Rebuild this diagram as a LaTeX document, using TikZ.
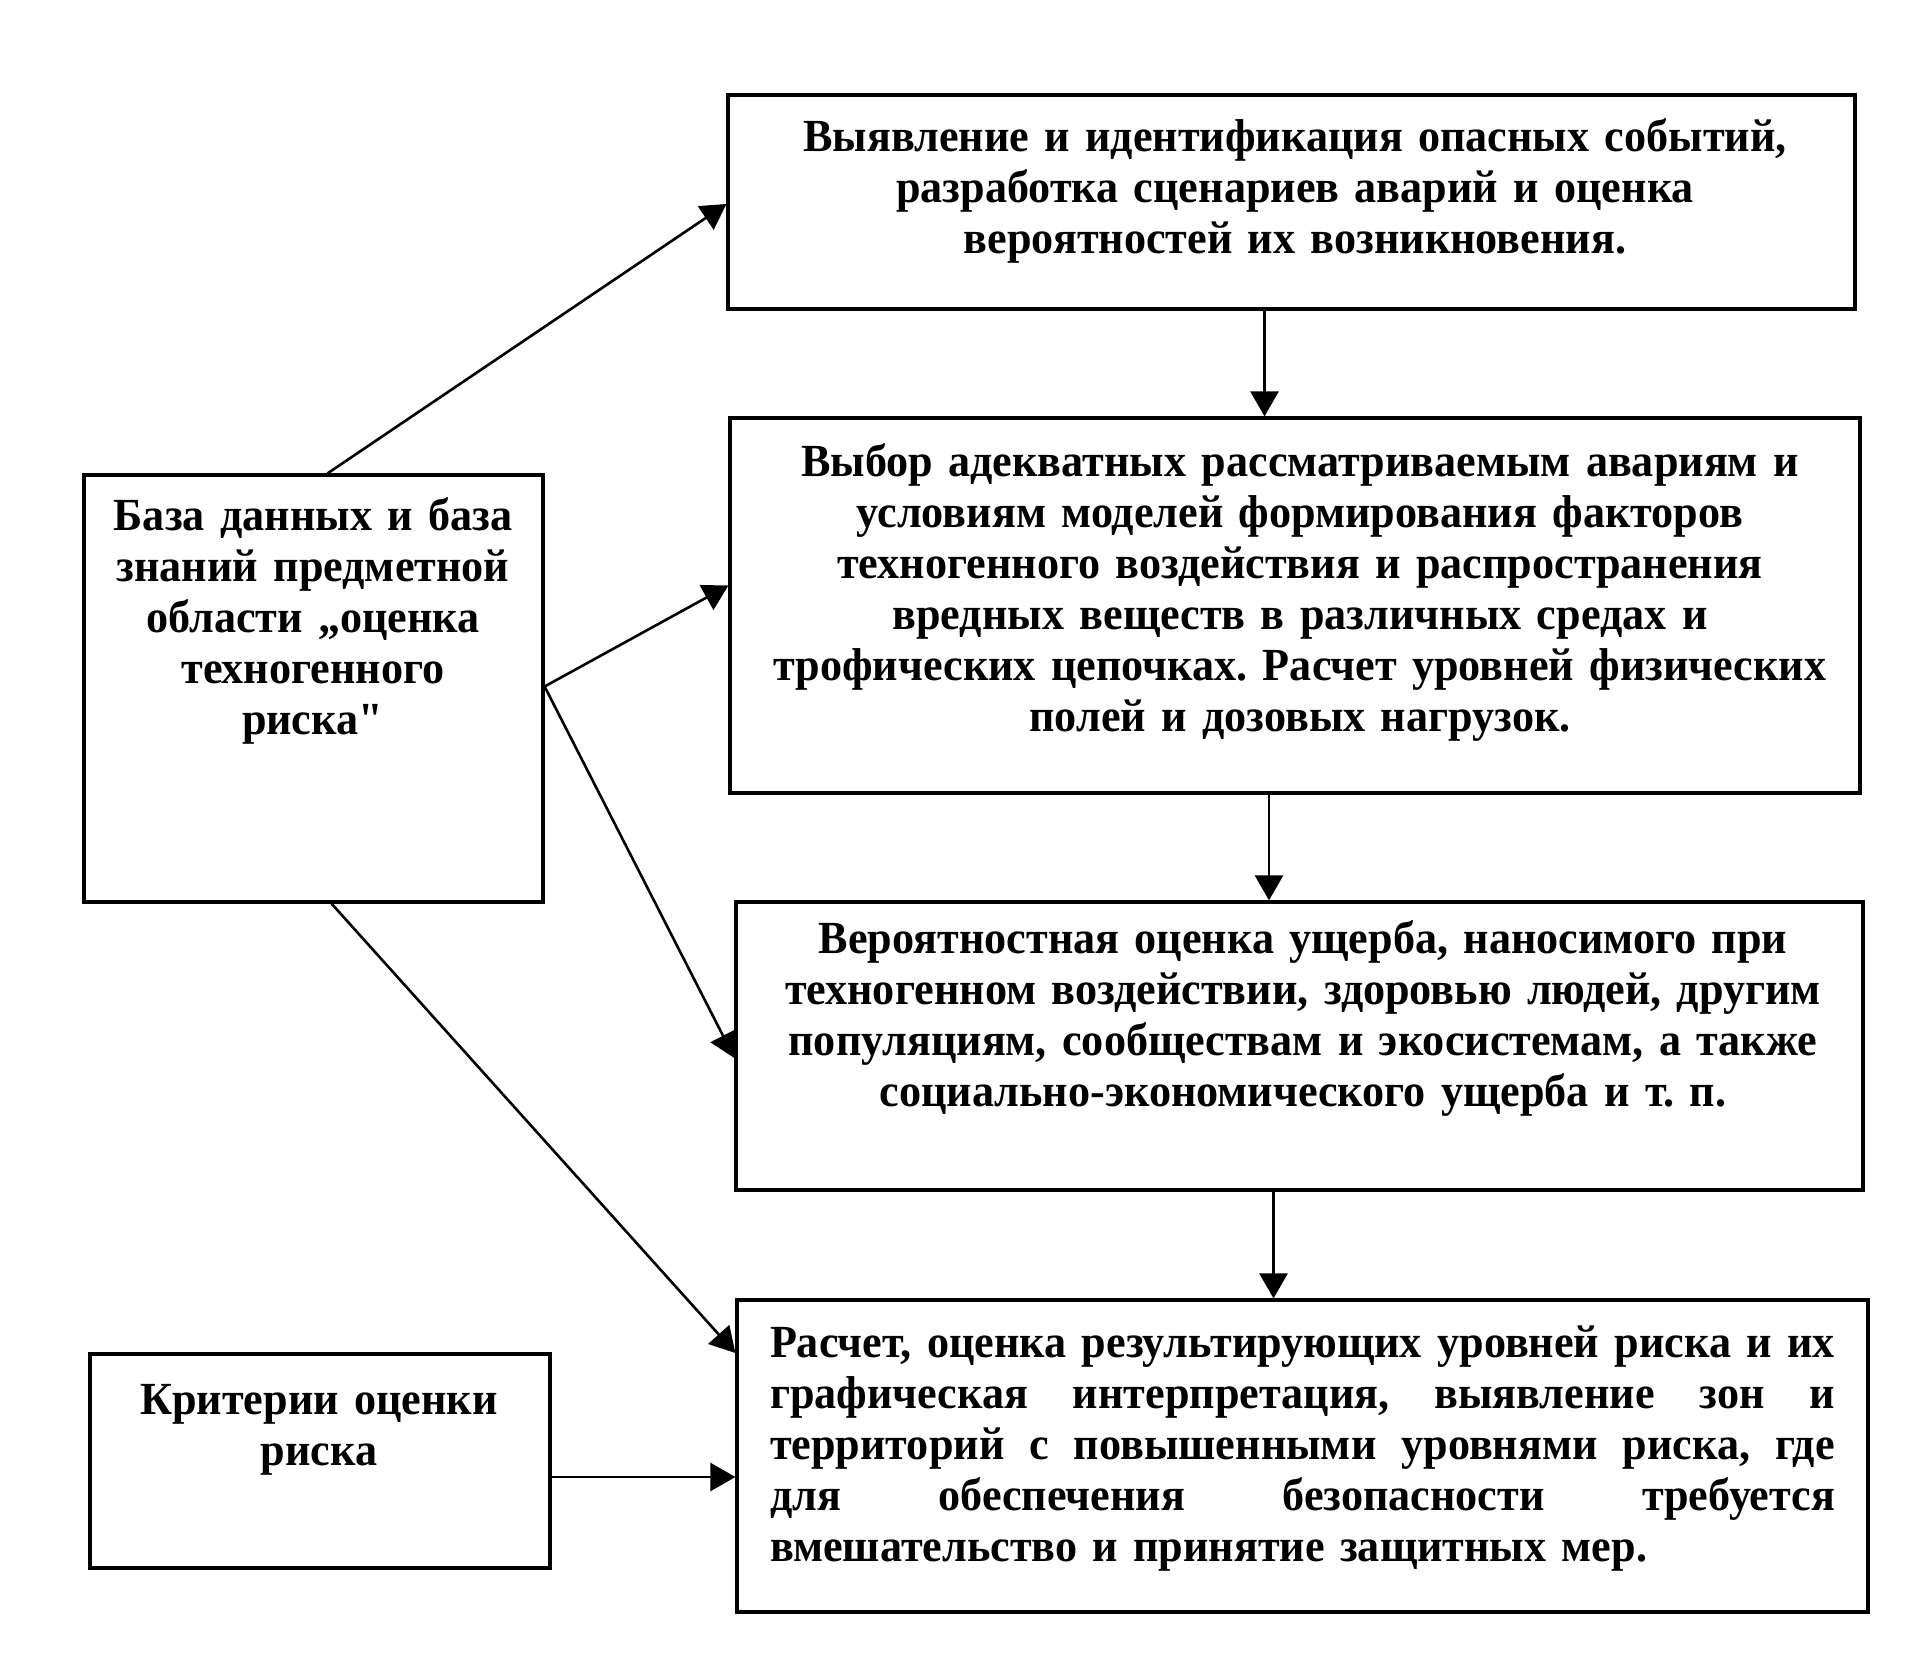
\documentclass[tikz,border=0pt]{standalone}
\usepackage{fontspec}
\setmainfont[FakeStretch=0.96]{Liberation Serif}
\usetikzlibrary{arrows.meta}
\frenchspacing
\newcommand{\jline}[1]{\makebox[532.5pt][s]{#1}}
\begin{document}
\begin{tikzpicture}[x=0.5pt,y=-0.5pt,
  box/.style={draw, line width=1.6pt, inner sep=0pt},
  txt/.style={inner sep=0pt, anchor=north, font=\fontsize{23}{25.5}\selectfont\bfseries\frenchspacing},
  arr/.style={line width=1.3pt, -{Triangle[length=12.5pt,width=14pt]}}]
\useasboundingbox (0,0) rectangle (1931,1673);
\fill[white] (0,0) rectangle (1931,1673);
% boxes
\node[box, minimum width=563.5pt, minimum height=107pt] (b1) at (1291.5,202) {};
\node[box, minimum width=565pt, minimum height=187.5pt] (b2) at (1295,605.5) {};
\node[box, minimum width=563.5pt, minimum height=144pt] (b3) at (1299.5,1046) {};
\node[box, minimum width=565.5pt, minimum height=156pt] (b4) at (1302.5,1456) {};
\node[box, minimum width=229.5pt, minimum height=213.5pt] (db) at (313.5,688.5) {};
\node[box, minimum width=230pt, minimum height=107pt] (cr) at (320,1461) {};
% texts
\node[txt, text width=555pt, align=center] (t1) at (1295,118)
 {Выявление и идентификация опасных событий,\\
  разработка сценариев аварий и оценка\\
  вероятностей их возникновения.};
\node[txt, text width=560pt, align=center] (t2) at (1300,443)
 {Выбор адекватных рассматриваемым авариям и\\
  условиям моделей формирования факторов\\
  техногенного воздействия и распространения\\
  вредных веществ в различных средах и\\
  трофических цепочках. Расчет уровней физических\\
  полей и дозовых нагрузок.};
\node[txt, text width=560pt, align=center] (t3) at (1303,920)
 {Вероятностная оценка ущерба, наносимого при\\
  техногенном воздействии, здоровью людей, другим\\
  популяциям, сообществам и экосистемам, а также\\
  социально-экономического ущерба и т.~п.};
\node[txt, text width=532.5pt, align=left] (t4) at (1302.5,1325)
 {\jline{Расчет,\hfill оценка\hfill результирующих\hfill уровней\hfill риска\hfill и\hfill их}\\
  \jline{графическая\hfill интерпретация,\hfill выявление\hfill зон\hfill и}\\
  \jline{территорий\hfill с\hfill повышенными\hfill уровнями\hfill риска,\hfill где}\\
  \jline{для\hfill обеспечения\hfill безопасности\hfill требуется}\\
  вмешательство и принятие защитных мер.};
\node[txt, text width=225pt, align=center] (t5) at (313,497)
 {База данных и база\\
  знаний предметной\\
  области „оценка\\
  техногенного\\
  риска\textquotedbl};
\node[txt, text width=225pt, align=center] (t6) at (319,1384)
 {Критерии оценки\\
  риска};
% connectors
\draw[arr] ([xshift=-13.5pt]b1.south) -- ([xshift=-13.5pt]b1.south |- b2.north);
\draw[arr] ([xshift=-13pt]b2.south) -- ([xshift=-13pt]b2.south |- b3.north);
\draw[arr] ([xshift=-13pt]b3.south) -- ([xshift=-13pt]b3.south |- b4.north);
\draw[arr] ([xshift=7pt]db.north) -- ([yshift=-1pt]b1.west);
\draw[arr] ([yshift=1pt]db.east) -- ([yshift=10pt]b2.west);
\draw[arr] ([yshift=1pt]db.east) -- ([yshift=-6pt]b3.west);
\draw[arr] ([xshift=9pt]db.south) -- ([yshift=51.5pt]b4.west);
\draw[arr] ([yshift=-8pt]cr.east) -- ([yshift=-8pt]cr.east -| b4.west);
\end{tikzpicture}
\end{document}
